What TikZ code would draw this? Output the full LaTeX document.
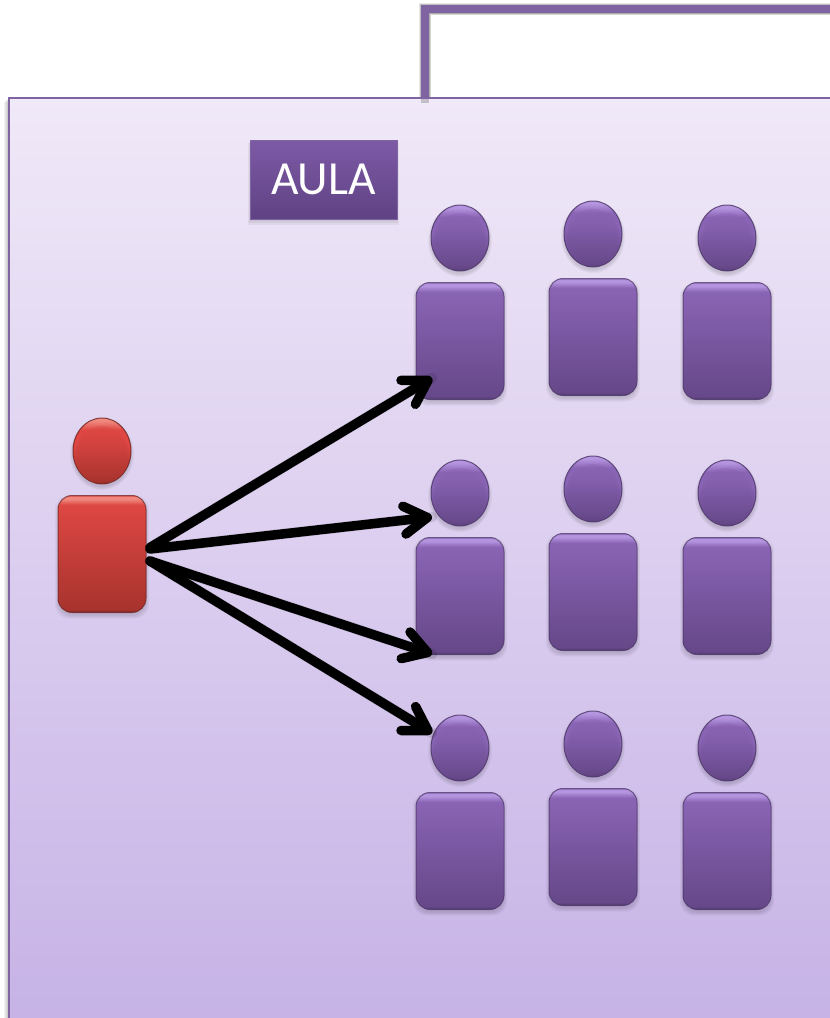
\documentclass[tikz,border=0pt]{standalone}
\usepackage{fontspec}
\setmainfont{Carlito}
\usetikzlibrary{arrows.meta,shapes.geometric}
\definecolor{framec}{HTML}{8064A2}
\definecolor{pL}{HTML}{B595E0}\definecolor{pA}{HTML}{8A64B4}\definecolor{pB}{HTML}{664889}\definecolor{pE}{HTML}{4A3565}
\definecolor{rL}{HTML}{F08A80}\definecolor{rA}{HTML}{DE4743}\definecolor{rB}{HTML}{A8332E}\definecolor{rE}{HTML}{6E2320}
\definecolor{labeltop}{HTML}{7D5AA6}
\definecolor{labelbot}{HTML}{5F4283}
\pgfdeclareverticalshading{bodyP}{100bp}{color(0bp)=(pE);color(25bp)=(pE);color(26.2bp)=(pB);color(71bp)=(pA);color(73.5bp)=(pL);color(74.5bp)=(pL);color(75bp)=(pA);color(100bp)=(pA)}
\pgfdeclareverticalshading{bodyR}{100bp}{color(0bp)=(rE);color(25bp)=(rE);color(26.2bp)=(rB);color(71bp)=(rA);color(73.5bp)=(rL);color(74.5bp)=(rL);color(75bp)=(rA);color(100bp)=(rA)}
\pgfdeclareverticalshading{headP}{100bp}{color(0bp)=(pE);color(25bp)=(pE);color(28bp)=(pB);color(55bp)=(pA);color(66bp)=(pA);color(73bp)=(pL);color(100bp)=(pL)}
\pgfdeclareverticalshading{headR}{100bp}{color(0bp)=(rE);color(25bp)=(rE);color(28bp)=(rB);color(55bp)=(rA);color(66bp)=(rA);color(73bp)=(rL);color(100bp)=(rL)}
\pgfdeclareverticalshading{domeP}{100bp}{color(0bp)=(pB);color(25bp)=(pB);color(75bp)=(pA);color(100bp)=(pA)}
\pgfdeclareverticalshading{domeR}{100bp}{color(0bp)=(rB);color(25bp)=(rB);color(75bp)=(rA);color(100bp)=(rA)}
\tikzset{
  x=1pt,y=-1pt,
  bodybox/.style={rectangle,rounded corners=14pt,minimum width=88pt,minimum height=117pt,inner sep=0pt,outer sep=0pt},
  headoval/.style={ellipse,minimum width=58pt,minimum height=66pt,inner sep=0pt,outer sep=0pt},
  domeoval/.style={ellipse,inner sep=0pt,outer sep=0pt,opacity=.4},
  softshade/.style={fill=black,draw=none,opacity=.035},
  link/.style={draw=black,line width=9.5pt,line cap=round,
    -{Straight Barb[length=23pt,width=28pt,line width=9.5pt,round]}},
  linkshadow/.style={draw=black,opacity=.10,line width=10.5pt,line cap=round},
  label/.style={rectangle,minimum width=147pt,minimum height=79pt,inner sep=0pt,outer sep=0pt,
    top color=labeltop,bottom color=labelbot,draw=framec,line width=1pt,text=white,font=\fontsize{47.5pt}{50pt}\selectfont}
}
% #1 name, #2 x, #3 y of head centre, #4 P or R, #5 edge colour
\newcommand\personfig[5]{%
  \foreach \g in {0,2,4,6}{%
    \node[bodybox,softshade,minimum width=88pt+\g pt,minimum height=117pt+\g pt] at (#2,#3+103+3) {};
    \node[headoval,softshade,minimum width=58pt+\g pt,minimum height=66pt+\g pt] at (#2,#3+3) {};
  }%
  \node[bodybox,shading=body#4,draw=#5,draw opacity=.7,line width=1pt] (#1b) at (#2,#3+103) {};
  \node[headoval,shading=head#4,draw=#5,draw opacity=.8,line width=1pt] (#1h) at (#2,#3) {};
  \node[domeoval,shading=dome#4,minimum width=54pt,minimum height=58pt] at (#2,#3+4) {};
  \node[domeoval,shading=dome#4,minimum width=51pt,minimum height=54pt] at (#2,#3+5) {};
  \node[domeoval,shading=dome#4,minimum width=48pt,minimum height=50pt] at (#2,#3+6) {};
}
\begin{document}
\begin{tikzpicture}
\useasboundingbox (0,0) rectangle (830,1018);
\fill[white] (0,0) rectangle (830,1018);
% classroom panel
\foreach \g in {1,2,3,4}{\fill[black,opacity=.05] (8-\g,98+\g) rectangle (830,1018);}
\path[top color={rgb,255:red,240;green,233;blue,248},bottom color={rgb,255:red,198;green,178;blue,230},draw=framec,line width=2pt]
  (9,98) rectangle (840,1030);
% door / frame
\coordinate (fa) at (425,98);\coordinate (fb) at (425,9);\coordinate (fc) at (835,9);
\foreach \g in {1,2,3,4}{%
  \draw[black,opacity=.09,line width=8pt+\g pt,line join=miter,shift={(0,2)}] (fa) -- (fb) -- (fc);}
\draw[framec,line width=8pt,line join=miter] (fa) -- (fb) -- (fc);
\fill[black,opacity=.18] (421,98) rectangle (429,103);
\draw[framec,line width=2pt] (9,98) -- (840,98);
% label
\foreach \g in {0,2,4}{\fill[black,opacity=.05] (250-\g/2,143) rectangle (397+\g/2,221+\g);}
\node[label] (aula) at (323.5,179.5) {AULA};
% students
\personfig{sa}{460}{238}{P}{pE}
\personfig{sb}{593}{234}{P}{pE}
\personfig{sc}{727}{238}{P}{pE}
\personfig{sd}{460}{493}{P}{pE}
\personfig{se}{593}{489}{P}{pE}
\personfig{sf}{727}{493}{P}{pE}
\personfig{sg}{460}{748}{P}{pE}
\personfig{sh}{593}{744}{P}{pE}
\personfig{si}{727}{748}{P}{pE}
% teacher
\personfig{t}{102}{451}{R}{rE}
% arrow ends
\coordinate (s1) at ([xshift=4pt,yshift=6.5pt]tb.east);
\coordinate (s2) at ([xshift=4pt,yshift=5pt]tb.east);
\coordinate (s3) at ([xshift=4pt,yshift=-7pt]tb.east);
\coordinate (s4) at ([xshift=4pt,yshift=-7pt]tb.east);
\path (432,378) coordinate (e1) (432,517) coordinate (e2) (432,654) coordinate (e3) (432,733) coordinate (e4);
\foreach \a/\b in {s1/e1,s2/e2,s3/e3,s4/e4}{%
  \draw[linkshadow,shift={(0,2.5)}] (\a) -- (\b);
}
\draw[link] (s1) -- (e1);
\draw[link] (s2) -- (e2);
\draw[link] (s3) -- (e3);
\draw[link] (s4) -- (e4);
\end{tikzpicture}
\end{document}
